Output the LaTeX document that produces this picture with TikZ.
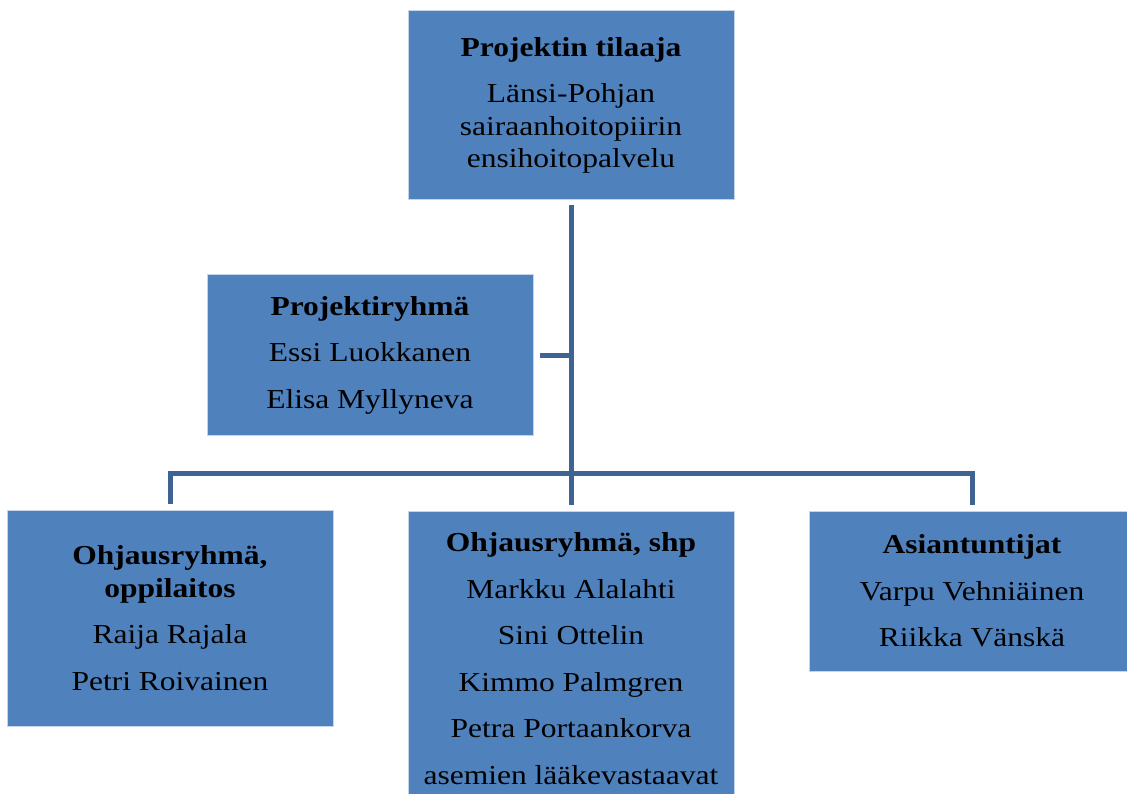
\documentclass[tikz,border=0pt]{standalone}
\usepackage{fontspec}
\setmainfont{Liberation Serif}[FakeStretch=1.15]
\usetikzlibrary{positioning}
\definecolor{orgblue}{HTML}{4F81BD}
\definecolor{orgedge}{HTML}{C5D4E8}
\definecolor{orgline}{HTML}{3F6493}

\begin{document}
\begin{tikzpicture}[x=1pt, y=-1pt,
  orgbox/.style={draw=orgedge, line width=1pt, fill=orgblue,
                 minimum width=326pt, inner sep=0pt, align=center,
                 font=\fontsize{27.4}{32.5}\selectfont},
  conn/.style={draw=orgline, line width=5pt},
]
  \useasboundingbox (0,0) rectangle (1127,794);

  % Top: the client
  \node[orgbox, minimum height=189pt] (tilaaja) at (571,105.5)
    {\textbf{Projektin tilaaja}\\[14pt]
     Länsi-Pohjan\\ sairaanhoitopiirin\\ ensihoitopalvelu};

  % Project team
  \node[orgbox, minimum height=160pt] (ryhma) at (370,355)
    {\textbf{Projektiryhmä}\\[14pt] Essi Luokkanen\\[14pt] Elisa Myllyneva};

  % Bottom row
  \node[orgbox, minimum height=216pt] (ohjOpp) at (170,618)
    {\textbf{Ohjausryhmä,}\\ \textbf{oppilaitos}\\[14pt]
     Raija Rajala\\[14pt] Petri Roivainen};
  \node[orgbox, minimum height=295pt] (ohjShp) at (571,658.5)
    {\textbf{Ohjausryhmä, shp}\\[14pt] Markku Alalahti\\[14pt] Sini Ottelin\\[14pt]
     Kimmo Palmgren\\[14pt] Petra Portaankorva\\[14pt] asemien lääkevastaavat};
  \node[orgbox, minimum height=160pt] (asiant) at (972,591)
    {\textbf{Asiantuntijat}\\[14pt] Varpu Vehniäinen\\[14pt] Riikka Vänskä};

  % Connectors
  \coordinate (hub) at (571,473);
  \draw[conn, shorten <=5pt] (tilaaja.south) -- (hub);
  \draw[conn, shorten <=6pt] (ryhma.east) -- (ryhma.east -| hub);
  \draw[conn, shorten <=6pt, shorten >=6pt] (ohjOpp.north) |- (hub) -| (asiant.north);
  \draw[conn, shorten <=6pt] (ohjShp.north) -- (hub);
\end{tikzpicture}
\end{document}
